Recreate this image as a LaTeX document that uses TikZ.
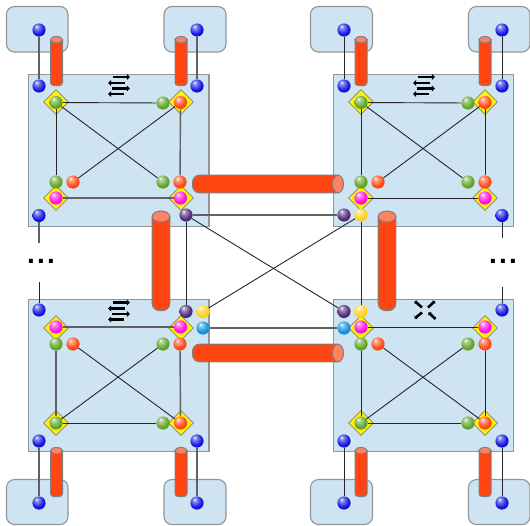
\documentclass[tikz,border=0pt]{standalone}
\usepackage{fontspec}
\setmainfont{Liberation Sans}
\usetikzlibrary{shapes.geometric,arrows.meta}
\pgfdeclarelayer{bg}\pgfdeclarelayer{ln}
\pgfsetlayers{bg,ln,main}
\definecolor{boxfill}{HTML}{CEE4F3}
\definecolor{boxedge}{HTML}{929699}
\definecolor{cylbody}{HTML}{FF4512}
\definecolor{cylend}{HTML}{FF8262}
\definecolor{cyledge}{HTML}{808080}
\definecolor{ballblue}{HTML}{1414E0}
\definecolor{ballgreen}{HTML}{62A52A}
\definecolor{ballorange}{HTML}{FF4A14}
\definecolor{ballmag}{HTML}{FF10E6}
\definecolor{ballpurple}{HTML}{4E2C7A}
\definecolor{ballyellow}{HTML}{FFD21E}
\definecolor{ballcyan}{HTML}{1490DC}
\newcommand{\defball}[1]{\pgfdeclareradialshading{shade#1}{\pgfpoint{-10bp}{14bp}}{color(0bp)=(white);color(7bp)=(ball#1!50!white);color(24bp)=(ball#1);color(58bp)=(ball#1!80!black)}}
\defball{blue}\defball{green}\defball{orange}\defball{mag}\defball{purple}\defball{yellow}\defball{cyan}
\tikzset{
  x=1pt,y=-1pt,
  switchbox/.style={draw=boxedge,fill=boxfill,line width=1.3pt},
  hostbox/.style={draw=boxedge,fill=boxfill,line width=1.1pt,rounded corners=8pt},
  ball/.style={circle,minimum size=13.2pt,inner sep=0pt,shade,shading=shade#1},
  sw/.style={diamond,draw=cyledge,fill=yellow,line width=.8pt,minimum size=25pt,inner sep=0pt},
  wire/.style={draw=black!85,line width=.9pt},
  gwire/.style={draw=black!62,line width=1.4pt},
  cyl/.style={draw=cyledge,line width=1pt,fill=cylbody},
  cylcap/.style={draw=cyledge,line width=1pt,fill=cylend},
  iconarrow/.style={line width=2.4pt,-{Triangle[length=3.2pt,width=6pt]}},
  crossarrow/.style={line width=2.6pt,-{Triangle[length=2pt,width=4.5pt]}},
  dots/.style={font=\fontsize{28}{28}\selectfont\bfseries,inner sep=0pt},
  pics/updown/.style={code={
    \draw[iconarrow] (-6,-8.5) -- (11,-8.5);
    \draw[iconarrow] (5.5,-2.5) -- (-11,-2.5);
    \draw[iconarrow] (-7,3) -- (11,3);
    \draw[iconarrow] (5,8.5) -- (-11,8.5);
  }},
  pics/crossing/.style={code={
    \draw[crossarrow] (-3.5,-2.5) -- (-11,-9);
    \draw[crossarrow] (2.5,-2.5) -- (9.5,-9);
    \draw[crossarrow] (-3.5,2.5) -- (-11,8.5);
    \draw[crossarrow] (10,9) -- (3,2.5);
  }}
}
% vertical tube: centre x, top y, bottom y, half width, half cap height, corner
\newcommand{\vtube}[6]{%
  \path[cyl] (#1-#4,#2+#5) -- (#1-#4,#3-#6)
    .. controls (#1-#4,#3-0.45*#6) and (#1-#4+0.45*#6,#3) .. (#1-#4+#6,#3)
    -- (#1+#4-#6,#3)
    .. controls (#1+#4-0.45*#6,#3) and (#1+#4,#3-0.45*#6) .. (#1+#4,#3-#6)
    -- (#1+#4,#2+#5) -- cycle;
  \path[cylcap] (#1,#2+#5) ellipse[x radius=#4,y radius=#5];
}
% horizontal tube: left x, cap centre x, centre y, half height, half cap width
\newcommand{\htube}[5]{%
  \path[cyl] (#2,#3-#4) -- (#1+7,#3-#4)
    .. controls (#1+3.1,#3-#4) and (#1,#3-#4+3.1) .. (#1,#3-#4+7)
    -- (#1,#3+#4-7)
    .. controls (#1,#3+#4-3.1) and (#1+3.1,#3+#4) .. (#1+7,#3+#4)
    -- (#2,#3+#4) -- cycle;
  \path[cylcap] (#2,#3) ellipse[x radius=#5,y radius=#4];
}
\newcommand{\ballat}[4]{\node[ball=#4] (#1) at (#2,#3) {};}
\begin{document}
\begin{tikzpicture}
\useasboundingbox (0,0) rectangle (530,525);
\begin{pgfonlayer}{bg}
  % hosts
  \path[hostbox] (6.5,6.5) rectangle (68,52);
  \path[hostbox] (164,6.5) rectangle (226,52);
  \path[hostbox] (310.5,6.5) rectangle (372.5,52);
  \path[hostbox] (468.5,6.5) rectangle (530,52);
  \path[hostbox] (6.5,479.5) rectangle (68,524.5);
  \path[hostbox] (164,479.5) rectangle (226,524.5);
  \path[hostbox] (310.5,479.5) rectangle (372.5,524.5);
  \path[hostbox] (468.5,479.5) rectangle (530,524.5);
  % switches
  \path[switchbox] (28.5,74.5) rectangle (209,226.5);
  \path[switchbox] (333.5,74.5) rectangle (513.5,226.5);
  \path[switchbox] (28.5,299.5) rectangle (209,451.5);
  \path[switchbox] (333.5,299.5) rectangle (513.5,451.5);
  % diamonds
  \node[sw] (da) at (56,102) {};
  \node[sw] (db) at (181,102) {};
  \node[sw] (dc) at (56,198) {};
  \node[sw] (dd) at (181,198) {};
  \node[sw] (de) at (361,102) {};
  \node[sw] (df) at (485,102) {};
  \node[sw] (dg) at (361,198) {};
  \node[sw] (dh) at (485,198) {};
  \node[sw] (di) at (56,328) {};
  \node[sw] (dj) at (181,328) {};
  \node[sw] (dk) at (56,423) {};
  \node[sw] (dl) at (181,423) {};
  \node[sw] (dm) at (361,328) {};
  \node[sw] (dn) at (485,328) {};
  \node[sw] (do) at (361,423) {};
  \node[sw] (dp) at (485,423) {};
\end{pgfonlayer}

% tubes
\vtube{56.5}{36.5}{85.5}{6}{3.2}{3}
\vtube{181}{36.5}{85.5}{6}{3.2}{3}
\vtube{361}{36.5}{85.5}{6}{3.2}{3}
\vtube{485}{36.5}{85.5}{6}{3.2}{3}
\vtube{56.5}{447.5}{496.5}{6}{3.2}{3}
\vtube{181}{447.5}{496.5}{6}{3.2}{3}
\vtube{361}{447.5}{496.5}{6}{3.2}{3}
\vtube{485}{447.5}{496.5}{6}{3.2}{3}
\vtube{161}{211}{310.5}{8.8}{5.5}{7}
\vtube{387}{211}{310.5}{8.8}{5.5}{7}
\htube{192.5}{338}{184}{8.8}{5.5}
\htube{192.5}{338}{353}{8.8}{5.5}

% icons
\pic at (119,85.5) {updown};
\pic at (424,85.5) {updown};
\pic at (119,311) {updown};
\pic at (425.5,310) {crossing};

% balls: hosts and switch ports
\ballat{h1}{39}{30}{blue}\ballat{h2}{197}{30}{blue}\ballat{h3}{344}{30}{blue}\ballat{h4}{502}{30}{blue}
\ballat{h5}{39}{503}{blue}\ballat{h6}{197}{503}{blue}\ballat{h7}{344}{503}{blue}\ballat{h8}{502}{503}{blue}
\ballat{s1}{39}{86}{blue}\ballat{s2}{197}{86}{blue}\ballat{s3}{344}{86}{blue}\ballat{s4}{502}{86}{blue}
\ballat{s5}{39}{441}{blue}\ballat{s6}{197}{441}{blue}\ballat{s7}{344}{441}{blue}\ballat{s8}{502}{441}{blue}
\ballat{u1}{39}{215.5}{blue}\ballat{u2}{502}{215.5}{blue}\ballat{u3}{39}{310}{blue}\ballat{u4}{502}{310}{blue}

% top left switch
\ballat{a1}{56}{102.5}{green}\ballat{a2}{163}{103}{green}\ballat{a3}{180.5}{102.5}{orange}
\ballat{a4}{56}{182}{green}\ballat{a5}{73}{182}{orange}\ballat{a6}{163}{182}{green}\ballat{a7}{180}{182}{orange}
\ballat{a8}{56}{198}{mag}\ballat{a9}{180.5}{198}{mag}
\ballat{ap}{186}{215}{purple}
% top right switch
\ballat{b1}{361}{102.5}{green}\ballat{b2}{468}{103}{green}\ballat{b3}{485}{102.5}{orange}
\ballat{b4}{361}{182}{green}\ballat{b5}{378}{182}{orange}\ballat{b6}{468}{182}{green}\ballat{b7}{485}{182}{orange}
\ballat{b8}{361}{198}{mag}\ballat{b9}{485}{198}{mag}
\ballat{bp}{344}{215}{purple}\ballat{by}{361}{215}{yellow}
% bottom left switch
\ballat{c1}{56}{327}{mag}\ballat{c2}{180.5}{327}{mag}
\ballat{c3}{56}{344}{green}\ballat{c4}{73}{344}{orange}\ballat{c5}{163}{344}{green}\ballat{c6}{180}{344}{orange}
\ballat{c7}{56}{423}{green}\ballat{c8}{163}{423}{green}\ballat{c9}{180.5}{423}{orange}
\ballat{cp}{186}{311.5}{purple}\ballat{cy}{203}{311.5}{yellow}\ballat{cb}{203}{328}{cyan}
% bottom right switch
\ballat{d1}{361}{327}{mag}\ballat{d2}{485}{327}{mag}
\ballat{d3}{361}{344}{green}\ballat{d4}{378}{344}{orange}\ballat{d5}{468}{344}{green}\ballat{d6}{485}{344}{orange}
\ballat{d7}{361}{423}{green}\ballat{d8}{468}{423}{green}\ballat{d9}{485}{423}{orange}
\ballat{dpu}{344}{311.5}{purple}\ballat{dy}{361}{311.5}{yellow}\ballat{dcy}{344}{328}{cyan}

% free ends of the stubs towards the dots
\coordinate (e1) at (39,243);\coordinate (e2) at (39,282);
\coordinate (e3) at (502,238);\coordinate (e4) at (502,287);

\node[dots,anchor=base] (leftdots) at (41,263) {.\kern2.2pt.\kern2.2pt.};
\node[dots,anchor=base] (rightdots) at (503,263) {.\kern2.2pt.\kern2.2pt.};

\begin{pgfonlayer}{ln}
  % host links
  \draw[gwire] (h1) -- (s1); \draw[gwire] (h2) -- (s2); \draw[wire] (h3) -- (s3); \draw[wire] (h4) -- (s4);
  \draw[gwire] (h5) -- (s5); \draw[gwire] (h6) -- (s6); \draw[wire] (h7) -- (s7); \draw[wire] (h8) -- (s8);
  \draw[gwire] (u1) -- (e1); \draw[wire] (u3) -- (e2); \draw[wire] (u2) -- (e3); \draw[wire] (u4) -- (e4);
  % top left
  \draw[wire] (a1) -- (a2); \draw[wire] (a1) -- (a4); \draw[gwire] (a3) -- (a7);
  \draw[wire] (a1) -- (a6); \draw[wire] (a3) -- (a5); \draw[gwire] (a8) -- (a9);
  % top right
  \draw[wire] (b1) -- (b2); \draw[wire] (b1) -- (b4); \draw[wire] (b3) -- (b7);
  \draw[wire] (b1) -- (b6); \draw[wire] (b3) -- (b5); \draw[wire] (b8) -- (b9);
  % bottom left
  \draw[gwire] (c1) -- (c2); \draw[gwire] (c3) -- (c7); \draw[gwire] (c6) -- (c9);
  \draw[wire] (c7) -- (c8); \draw[wire] (c4) -- (c9); \draw[wire] (c5) -- (c7);
  % bottom right
  \draw[wire] (d1) -- (d2); \draw[wire] (d3) -- (d7); \draw[wire] (d6) -- (d9);
  \draw[wire] (d7) -- (d8); \draw[wire] (d4) -- (d9); \draw[wire] (d5) -- (d7);
  % inter-switch
  \draw[gwire] (ap) -- (bp); \draw[wire] (ap) -- (cp); \draw[wire] (ap) -- (dpu);
  \draw[wire] (by) -- (cy); \draw[wire] (by) -- (dy); \draw[gwire] (cb) -- (dcy);
\end{pgfonlayer}
\end{tikzpicture}
\end{document}
